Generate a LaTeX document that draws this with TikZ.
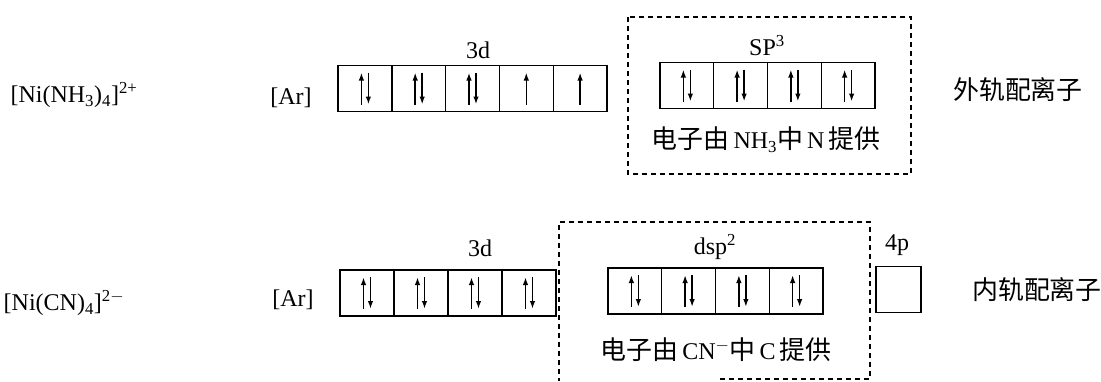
\documentclass[tikz,border=0pt]{standalone}
\usepackage{fontspec}
\setmainfont{Liberation Serif}
\newfontfamily\cjk[Scale=1.08]{Noto Sans CJK SC}
\usetikzlibrary{arrows.meta}

\begin{document}
\begin{tikzpicture}[x=1pt,y=-1pt,
  every node/.style={font=\fontsize{24}{28}\selectfont},
  orb/.style={draw,line width=1.4pt,minimum width=53.8pt,minimum height=46pt,inner sep=0pt},
  spin/.style={line width=1.6pt,-{Latex[length=8pt,width=5.5pt]}},
  frame/.style={line width=1.5pt,dash pattern=on 5pt off 4pt}]
 \useasboundingbox (0,0) rectangle (1101,381);
 % [Ni(NH3)4]2+ : sp3, outer orbital complex
 \begin{scope}
  \node (ionA) at (74,95) {[Ni(NH\textsubscript{3})\textsubscript{4}]\textsuperscript{2+}};
  \node (arA) at (291,98) {[Ar]};
  \foreach \i in {1,...,5}
    \node[orb] (dA\i) at ({338+53.8*(\i-0.5)},88.5) {};
  \foreach \i in {1,2,3} {
    \draw[spin] ([shift={(-3.5pt,-16pt)}]dA\i.center) -- ++(0pt,32pt);
    \draw[spin] ([shift={(3.5pt,16pt)}]dA\i.center) -- ++(0pt,-32pt);
  }
  \foreach \i in {4,5}
    \draw[spin] ([yshift=-16pt]dA\i.center) -- ++(0pt,32pt);
  \node (lbdA) at (478,50) {3d};
  \draw[frame] (628,17) rectangle (911,174);
  \foreach \i in {1,...,4} {
    \node[orb] (hA\i) at ({660+53.75*(\i-0.5)},85.5) {};
    \draw[spin] ([shift={(-3.5pt,-16pt)}]hA\i.center) -- ++(0pt,32pt);
    \draw[spin] ([shift={(3.5pt,16pt)}]hA\i.center) -- ++(0pt,-32pt);
  }
  \node (lbhA) at (767,46) {SP\textsuperscript{3}};
  \node (srcA) at (766,140) {{\cjk 电子由}\,NH\textsubscript{3}{\cjk 中}\,N\,{\cjk 提供}};
  \node (kindA) at (1018,90) {\cjk 外轨配离子};
 \end{scope}
 % [Ni(CN)4]2- : dsp2, inner orbital complex
 \begin{scope}
  \node (ionB) at (64,303) {[Ni(CN)\textsubscript{4}]\textsuperscript{2$-$}};
  \node (arB) at (293,300) {[Ar]};
  \foreach \i in {1,...,4} {
    \node[orb] (dB\i) at ({340+54*(\i-0.5)},293) {};
    \draw[spin] ([shift={(-3.5pt,-16pt)}]dB\i.center) -- ++(0pt,32pt);
    \draw[spin] ([shift={(3.5pt,16pt)}]dB\i.center) -- ++(0pt,-32pt);
  }
  \node (lbdB) at (480,248) {3d};
  \draw[frame] (720,379) -- (870,379) -- (870,222) -- (559,222) -- (559,381);
  \foreach \i in {1,...,4} {
    \node[orb] (hB\i) at ({608+53.75*(\i-0.5)},291) {};
    \draw[spin] ([shift={(-3.5pt,-16pt)}]hB\i.center) -- ++(0pt,32pt);
    \draw[spin] ([shift={(3.5pt,16pt)}]hB\i.center) -- ++(0pt,-32pt);
  }
  \node (lbhB) at (715,247) {dsp\textsuperscript{2}};
  \node[orb,minimum width=45pt] (pB) at (898.5,289.5) {};
  \node (lbpB) at (897,245) {4p};
  \node (srcB) at (716,350) {{\cjk 电子由}\,CN\textsuperscript{$-$}{\cjk 中}\,C\,{\cjk 提供}};
  \node (kindB) at (1037,290) {\cjk 内轨配离子};
 \end{scope}
\end{tikzpicture}
\end{document}
